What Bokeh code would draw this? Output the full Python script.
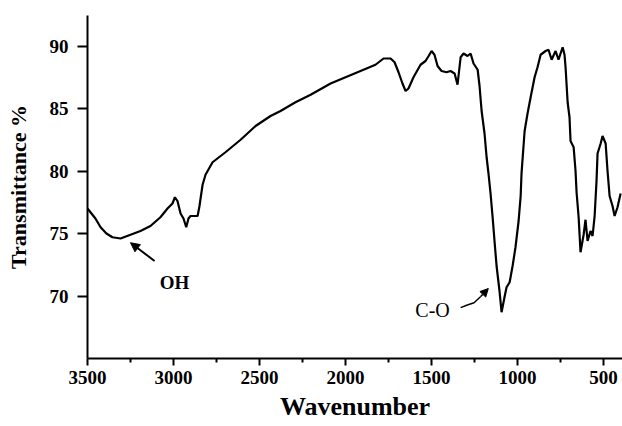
from bokeh.plotting import figure
from bokeh.models import Range1d, FixedTicker, Label, Arrow, NormalHead
from bokeh.embed import file_html
from bokeh.resources import INLINE

# FTIR spectrum
wavenumber = [3500, 3454, 3424, 3390, 3355, 3308, 3250, 3192, 3134, 3076,
              3035, 3006, 2992, 2977, 2959, 2942, 2926, 2913, 2901, 2860,
              2849, 2831, 2814, 2773, 2698, 2610, 2523, 2436, 2378, 2291,
              2203, 2087, 2000, 1913, 1826, 1779, 1738, 1715, 1692, 1669,
              1651, 1634, 1605, 1564, 1535, 1517, 1500, 1483, 1465, 1442,
              1413, 1390, 1366, 1349, 1331, 1314, 1291, 1273, 1256, 1232,
              1221, 1209, 1192, 1180, 1169, 1157, 1145, 1134, 1122, 1105,
              1093, 1076, 1064, 1046, 1029, 1012, 994, 982, 977, 959,
              942, 924, 901, 884, 866, 837, 820, 802, 779, 762,
              738, 727, 721, 709, 698, 692, 674, 663, 657, 645,
              634, 616, 605, 593, 576, 564, 552, 541, 535, 517,
              506, 488, 477, 465, 448, 436, 419, 401]
transmittance = [77.0, 76.2, 75.5, 75.0, 74.7, 74.6, 74.9, 75.2, 75.6, 76.3,
                 77.0, 77.4, 77.9, 77.6, 76.6, 76.2, 75.5, 76.2, 76.4, 76.4,
                 77.2, 78.9, 79.7, 80.7, 81.5, 82.5, 83.6, 84.4, 84.8, 85.5,
                 86.1, 87.0, 87.5, 88.0, 88.5, 89.0, 89.0, 88.7, 87.9, 87.0,
                 86.4, 86.6, 87.5, 88.5, 88.8, 89.2, 89.6, 89.3, 88.4, 88.0,
                 87.9, 88.0, 87.8, 86.9, 89.1, 89.4, 89.2, 89.4, 88.6, 88.1,
                 86.8, 84.8, 83.0, 81.1, 79.8, 78.2, 76.3, 74.4, 72.4, 70.4,
                 68.7, 69.9, 70.7, 71.1, 72.4, 73.9, 76.0, 78.0, 79.8, 83.2,
                 84.6, 85.9, 87.5, 88.3, 89.3, 89.6, 89.7, 88.9, 89.6, 88.9,
                 89.9, 89.3, 88.3, 85.5, 84.3, 82.4, 81.9, 80.0, 78.3, 76.3,
                 73.5, 74.9, 76.1, 74.4, 75.2, 74.8, 76.4, 79.2, 81.4, 82.2,
                 82.8, 82.2, 80.0, 78.0, 77.2, 76.4, 77.1, 78.2]

x_ticks = [3500, 3000, 2500, 2000, 1500, 1000, 500]
x_minor_ticks = [3250, 2750, 2250, 1750, 1250, 750]
y_ticks = [70, 75, 80, 85, 90]
x_title = "Wavenumber"
y_title = "Transmittance %"

SERIF = "Liberation Serif"

p = figure(width=622, height=426, output_backend="svg", toolbar_location=None,
           x_range=Range1d(3500, 390), y_range=Range1d(65, 92.44),
           min_border_left=87, min_border_right=0, min_border_top=15,
           min_border_bottom=68)
p.outline_line_color = None
p.xgrid.visible = False
p.ygrid.visible = False
p.background_fill_color = "white"
p.border_fill_color = "white"

p.line(wavenumber, transmittance, line_color="black", line_width=2.2)

# axes
p.xaxis.ticker = FixedTicker(ticks=x_ticks, minor_ticks=x_minor_ticks)
p.yaxis.ticker = FixedTicker(ticks=y_ticks, minor_ticks=[])
for ax in (p.xaxis[0], p.yaxis[0]):
    ax.axis_line_width = 2
    ax.axis_line_color = "black"
    ax.major_tick_line_width = 2
    ax.minor_tick_line_width = 2
    ax.major_tick_in = 0
    ax.minor_tick_in = 0
    ax.major_label_text_font = SERIF
    ax.major_label_text_font_style = "bold"
    ax.major_label_text_font_size = "19px"
    ax.major_label_text_color = "black"
    ax.axis_label_text_font = SERIF
    ax.axis_label_text_font_style = "bold"
    ax.axis_label_text_color = "black"

p.xaxis.major_tick_out = 7
p.xaxis.minor_tick_out = 4
p.xaxis.major_label_standoff = 5
p.xaxis.axis_label = x_title
p.xaxis.axis_label_text_font_size = "26px"
p.xaxis.axis_label_standoff = 5

p.yaxis.major_tick_out = 10
p.yaxis.minor_tick_out = 0
p.yaxis.major_label_standoff = 9
p.yaxis.axis_label = y_title
p.yaxis.axis_label_text_font_size = "22px"
p.yaxis.axis_label_standoff = 16

# annotations
p.add_layout(Label(x=2994, y=71.1, text="OH", text_font=SERIF,
                   text_font_style="bold", text_font_size="19px",
                   text_align="center", text_baseline="middle",
                   text_color="black"))
p.add_layout(Arrow(x_start=3110, y_start=72.8, x_end=3250, y_end=74.26,
                   line_width=2, line_color="black",
                   end=NormalHead(size=9, fill_color="black",
                                  line_color="black")))

p.add_layout(Label(x=1494, y=68.9, text="C-O", text_font=SERIF,
                   text_font_size="20px", text_align="center",
                   text_baseline="middle", text_color="black"))
p.line([1331, 1292, 1253, 1214], [69.07, 69.28, 69.46, 69.96],
       line_color="black", line_width=1.5)
p.add_layout(Arrow(x_start=1214, y_start=69.96, x_end=1170, y_end=70.6,
                   line_width=1.5, line_color="black",
                   end=NormalHead(size=8, fill_color="black",
                                  line_color="black")))

open("out.html", "w").write(file_html(p, INLINE))
